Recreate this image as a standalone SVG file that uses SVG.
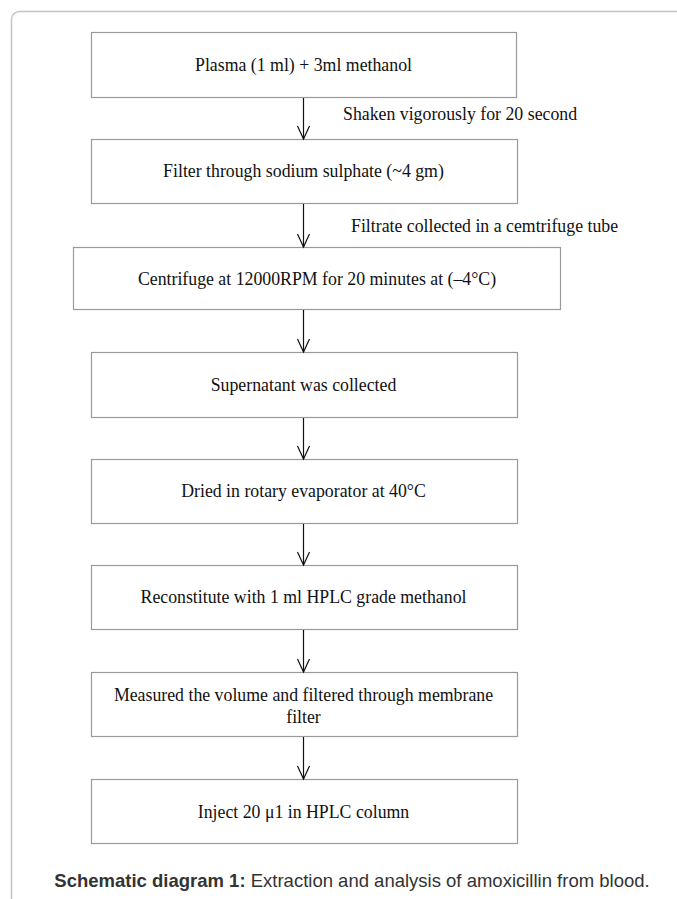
<svg xmlns="http://www.w3.org/2000/svg" width="677" height="899" viewBox="0 0 677 899">
<style>
.box{fill:#fff;stroke:#9a9a9a;stroke-width:1.2}
.t{font-family:"Liberation Serif","Times New Roman",serif;font-size:17.8px;fill:#111;text-anchor:middle}
.lbl{font-family:"Liberation Serif","Times New Roman",serif;font-size:17.8px;fill:#111}
.cap{font-family:"Liberation Sans",Arial,sans-serif;font-size:18.5px;fill:#333}
.conn line,.conn path{stroke:#111;stroke-width:1.2;fill:none}
</style>
<rect x="11.5" y="11.5" width="700" height="920" rx="8" fill="#fff" stroke="#c4c4c4" stroke-width="1.5"/>
<g id="n1"><rect class="box" x="91.5" y="32.5" width="425" height="65"/><text class="t" x="303.5" y="71">Plasma (1 ml) + 3ml methanol</text></g>
<g id="n2"><rect class="box" x="91.5" y="139.5" width="426" height="64"/><text class="t" x="303.5" y="177">Filter through sodium sulphate (~4 gm)</text></g>
<g id="n3"><rect class="box" x="73.5" y="247.5" width="487" height="62"/><text class="t" x="317" y="285">Centrifuge at 12000RPM for 20 minutes at (–4°C)</text></g>
<g id="n4"><rect class="box" x="91.5" y="352.5" width="426" height="65"/><text class="t" x="303.5" y="391">Supernatant was collected</text></g>
<g id="n5"><rect class="box" x="91.5" y="459.5" width="426" height="64"/><text class="t" x="303.5" y="497">Dried in rotary evaporator at 40°C</text></g>
<g id="n6"><rect class="box" x="91.5" y="565.5" width="426" height="64"/><text class="t" x="303.5" y="603">Reconstitute with 1 ml HPLC grade methanol</text></g>
<g id="n7"><rect class="box" x="91.5" y="672.5" width="426" height="64"/><text class="t" x="303.5" y="701">Measured the volume and filtered through membrane</text><text class="t" x="303.5" y="723">filter</text></g>
<g id="n8"><rect class="box" x="91.5" y="779.5" width="426" height="64"/><text class="t" x="303.5" y="818">Inject 20 μ1 in HPLC column</text></g>
<g class="conn" id="connectors">
<line x1="303.5" y1="98" x2="303.5" y2="139"/><path d="M297.5 126 L303.5 139 L309.5 126"/>
<line x1="303.5" y1="204" x2="303.5" y2="247"/><path d="M297.5 234 L303.5 247 L309.5 234"/>
<line x1="303.5" y1="310" x2="303.5" y2="352"/><path d="M297.5 339 L303.5 352 L309.5 339"/>
<line x1="303.5" y1="418" x2="303.5" y2="459"/><path d="M297.5 446 L303.5 459 L309.5 446"/>
<line x1="303.5" y1="524" x2="303.5" y2="565"/><path d="M297.5 552 L303.5 565 L309.5 552"/>
<line x1="303.5" y1="630" x2="303.5" y2="672"/><path d="M297.5 659 L303.5 672 L309.5 659"/>
<line x1="303.5" y1="737" x2="303.5" y2="779"/><path d="M297.5 766 L303.5 779 L309.5 766"/>
</g>
<text class="lbl" x="343" y="120">Shaken vigorously for 20 second</text>
<text class="lbl" x="351" y="232">Filtrate collected in a cemtrifuge tube</text>
<text class="cap" x="352" y="887" text-anchor="middle"><tspan font-weight="bold">Schematic diagram 1:</tspan> Extraction and analysis of amoxicillin from blood.</text>
</svg>
